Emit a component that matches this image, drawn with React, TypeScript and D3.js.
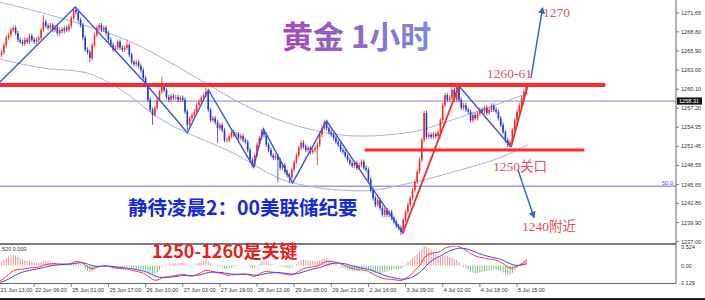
import React, { useEffect } from 'react';
import * as d3 from 'd3';

// ---------- DATA ----------
const timeLabels = [
  '21 Jun 13:00', '22 Jun 06:00', '25 Jun 01:00', '25 Jun 17:00', '26 Jun 10:00',
  '27 Jun 03:00', '27 Jun 19:00', '28 Jun 12:00', '29 Jun 05:00', '29 Jun 21:00',
  '2 Jul 16:00', '3 Jul 09:00', '4 Jul 02:00', '4 Jul 18:00', '5 Jul 15:00',
];
const barsPerLabel = 16;

const firstOpen = 1265.0;
// hourly closes, bar 1 .. 228
const closes = [
  1265.3, 1265.7, 1266.8, 1267.9, 1268.3, 1269.1, 1269.4, 1268.6, 1267.6, 1267.3,
  1267.0, 1267.6, 1267.3, 1268.2, 1267.6, 1267.3, 1267.6, 1267.9, 1269.1, 1270.3,
  1269.7, 1269.4, 1269.8, 1269.1, 1269.5, 1268.6, 1269.1, 1268.9, 1269.4, 1269.1,
  1269.7, 1270.9, 1272.1, 1271.8, 1270.6, 1269.8, 1267.9, 1266.1, 1265.7, 1264.8,
  1266.8, 1268.3, 1269.4, 1269.8, 1269.1, 1269.4, 1268.6, 1267.6, 1266.8, 1266.1,
  1266.4, 1267.3, 1266.4, 1266.1, 1266.4, 1266.8, 1265.3, 1264.2, 1263.9, 1264.2,
  1263.6, 1263.0, 1261.8, 1260.7, 1258.5, 1257.0, 1256.2, 1257.3, 1258.5, 1259.7,
  1260.7, 1260.0, 1258.9, 1258.5, 1259.1, 1258.8, 1258.9, 1258.5, 1258.8, 1258.5,
  1256.7, 1254.7, 1255.7, 1256.2, 1256.7, 1257.7, 1258.2, 1258.8, 1259.2, 1259.7,
  1257.0, 1255.4, 1255.7, 1255.1, 1254.2, 1254.7, 1253.9, 1252.4, 1252.4, 1253.0,
  1253.6, 1253.2, 1253.3, 1252.7, 1253.0, 1252.4, 1252.1, 1250.9, 1249.4, 1248.6,
  1250.1, 1251.7, 1252.7, 1253.6, 1253.2, 1251.7, 1250.9, 1250.1, 1249.7, 1250.0,
  1249.4, 1248.2, 1248.6, 1247.6, 1247.1, 1246.7, 1247.9, 1249.1, 1250.1, 1251.2,
  1252.0, 1251.4, 1250.9, 1251.2, 1250.6, 1250.9, 1251.2, 1251.7, 1253.2, 1254.2,
  1255.1, 1254.2, 1253.6, 1253.2, 1252.7, 1252.1, 1251.7, 1250.9, 1250.6, 1250.0,
  1249.4, 1248.9, 1248.5, 1248.9, 1248.2, 1248.6, 1249.1, 1248.2, 1247.9, 1246.4,
  1244.8, 1243.6, 1242.6, 1243.3, 1242.1, 1241.1, 1241.8, 1241.1, 1241.5, 1240.6,
  1240.0, 1239.4, 1239.1, 1238.5, 1240.3, 1241.5, 1242.6, 1243.6, 1244.8, 1246.1,
  1247.6, 1249.4, 1252.4, 1256.5, 1252.9, 1253.2, 1252.9, 1253.3, 1253.0, 1253.6,
  1255.4, 1257.7, 1259.2, 1258.5, 1258.8, 1260.0, 1258.5, 1260.6, 1258.5, 1257.3,
  1257.7, 1257.0, 1256.7, 1255.4, 1256.2, 1255.7, 1256.4, 1257.0, 1256.7, 1257.3,
  1256.5, 1257.0, 1257.6, 1257.0, 1256.7, 1255.7, 1254.7, 1253.6, 1252.4, 1251.7,
  1252.1, 1253.9, 1255.4, 1256.7, 1257.7, 1258.8, 1259.7, 1260.6,
];
// notable wicks: [bar, price]
const wickHighs: [number, number][] = [
  [20, 1271.35], [34, 1272.6], [56, 1267.6], [71, 1262.0], [90, 1260.3],
  [114, 1254.1], [141, 1255.5], [198, 1260.9], [228, 1260.8],
];
const wickLows: [number, number][] = [
  [40, 1264.2], [67, 1254.7], [82, 1253.9], [95, 1252.0], [110, 1248.3],
  [121, 1246.0], [126, 1245.9], [138, 1248.6], [174, 1238.0], [220, 1251.3],
];

const priceTicks = [
  1271.65, 1268.8, 1265.9, 1263.0, 1260.1, 1257.2, 1254.35, 1251.45,
  1248.55, 1245.65, 1242.8, 1239.9, 1237.0,
];
const lastPrice = 1258.31;
const resistance = 1260.74;
const support = 1250.9;
const fib50 = 1245.4;

// moving-average curves [bar, price]
const maUpper: [number, number][] = [
  [0, 1273.4], [30.2, 1270.6], [58.7, 1267.1], [87.6, 1261.5], [104.9, 1258.0],
  [130.8, 1254.4], [156.7, 1253.0], [178.3, 1253.6], [199.8, 1255.9], [217.1, 1258.0], [228.7, 1259.5],
];
const maLower: [number, number][] = [
  [0, 1264.8], [19.9, 1263.3], [37.1, 1262.7], [51.8, 1260.4], [69.1, 1255.9],
  [101.9, 1250.4], [126.5, 1246.0], [156.7, 1244.7], [178.3, 1245.9], [199.8, 1247.9],
  [217.1, 1249.8], [228.7, 1251.7],
];

// trend / zigzag lines [bar, price]
const zigzag: [number, number][] = [
  [1.3, 1261.2], [33.7, 1272.56], [63.9, 1261.0], [82.0, 1253.5], [91.1, 1260.0],
  [110.5, 1248.3], [114.8, 1254.1], [127.3, 1245.9], [142.0, 1255.3], [174.8, 1238.3],
];
const redLeg1: [number, number][] = [[174.8, 1238.3], [199.0, 1260.6]];
const blueLeg: [number, number][] = [[199.0, 1260.6], [221.4, 1251.35]];
const redLeg2: [number, number][] = [[221.4, 1251.35], [228.7, 1260.74]];

const arrowUp: [number, number][] = [[230, 1261.8], [235, 1272.4]];
const arrowDown: [number, number][] = [[224.4, 1247.9], [231.3, 1240.7]];

const macdSeed = { dif: -2.9, dea: -3.1 };
const macdLimits = [-3.129, 3.524];

// ---------- COMPONENT ----------
export default function App() {
  useEffect(() => {
    document.body.style.margin = '0';
  }, []);

  const x = d3.scaleLinear().domain([0, barsPerLabel * 14]).range([-3, 517]);
  const y = d3.scaleLinear().domain([1237.0, 1271.65]).range([241.7, 13]);
  const my = d3.scaleLinear().domain(macdLimits).range([282.5, 246.5]);

  const bars = closes.map((c, k) => {
    const i = k + 1;
    const o = k === 0 ? firstOpen : closes[k - 1];
    const hOv = wickHighs.find((w) => w[0] === i);
    const lOv = wickLows.find((w) => w[0] === i);
    const h = hOv ? hOv[1] : Math.max(o, c) + 0.35;
    const l = lOv ? lOv[1] : Math.min(o, c) - 0.35;
    return { i, o, c, h, l };
  });

  // MACD (DIF / DEA / 2*(DIF-DEA))
  const a12 = 2 / 13, a26 = 2 / 27, a9 = 2 / 10;
  let e12 = closes[0];
  let e26 = closes[0] - macdSeed.dif;
  let dea = macdSeed.dea;
  const macd = closes.map((c, k) => {
    if (k > 0) {
      e12 += a12 * (c - e12);
      e26 += a26 * (c - e26);
    }
    const dif = e12 - e26;
    if (k > 0) dea += a9 * (dif - dea);
    return { i: k + 1, dif, dea, hist: 2 * (dif - dea) };
  });

  const pl = d3.line<[number, number]>().x((d) => x(d[0])).y((d) => y(d[1]));
  const smooth = d3.line<[number, number]>().x((d) => x(d[0])).y((d) => y(d[1])).curve(d3.curveMonotoneX);
  const difLine = d3.line<any>().x((d) => x(d.i)).y((d) => my(d.dif));
  const deaLine = d3.line<any>().x((d) => x(d.i)).y((d) => my(d.dea));

  const UP = '#f42a2a';
  const DN = '#2236d8';
  const ANN = '#e8505c';
  const axisFont = 'Liberation Sans, Arial, sans-serif';
  const cjk = '"Noto Sans CJK SC", "Noto Sans", sans-serif';
  const serifCjk = '"Liberation Serif", "Noto Sans CJK SC", serif';

  return (
    <svg width={705} height={300} style={{ position: 'fixed', left: 0, top: 0, background: '#fff' }}>
      <defs>
        <clipPath id="main"><rect x={0} y={0} width={676} height={243} /></clipPath>
        <clipPath id="mac"><rect x={0} y={246} width={676} height={37.5} /></clipPath>
        <linearGradient id="tg" x1="0" x2="1" y1="0" y2="0">
          <stop offset="0" stopColor="#a449b6" />
          <stop offset="1" stopColor="#7c86e2" />
        </linearGradient>
        <marker id="ah" viewBox="0 0 10 10" refX="8" refY="5" markerWidth="5" markerHeight="5" orient="auto">
          <path d="M0,0 L10,5 L0,10 z" fill="#2f5fd0" />
        </marker>
      </defs>
      <rect x={0} y={0} width={705} height={300} fill="#fff" />

      <g clipPath="url(#main)">
        {/* horizontal levels */}
        <line x1={0} x2={676} y1={y(lastPrice)} y2={y(lastPrice)} stroke="#9c9ce4" strokeWidth={1.3} />
        <line x1={0} x2={676} y1={y(fib50)} y2={y(fib50)} stroke="#9c9ce4" strokeWidth={1.3} />
        {/* MA curves */}
        <path d={smooth(maUpper) || ''} fill="none" stroke="#b0addf" strokeWidth={1} />
        <path d={smooth(maLower) || ''} fill="none" stroke="#b0addf" strokeWidth={1} />

        {/* candles */}
        {bars.map((b) => {
          const col = b.c >= b.o ? UP : DN;
          const cx = x(b.i);
          const top = y(Math.max(b.o, b.c));
          const bot = y(Math.min(b.o, b.c));
          return (
            <g key={b.i}>
              <line x1={cx} x2={cx} y1={y(b.h)} y2={y(b.l)} stroke={col} strokeWidth={0.8} />
              <rect x={cx - 0.8} y={top} width={1.6} height={Math.max(0.8, bot - top)} fill={col} />
            </g>
          );
        })}

        {/* red support/resistance */}
        <line x1={0} x2={x(262)} y1={y(resistance)} y2={y(resistance)} stroke="#ff2b2b" strokeWidth={4} />
        <line x1={x(158.4)} x2={x(253)} y1={y(support)} y2={y(support)} stroke="#ff2b2b" strokeWidth={3} />

        {/* zigzag */}
        <path d={pl(zigzag) || ''} fill="none" stroke="#3f55d0" strokeWidth={1.4} />
        <path d={pl(blueLeg) || ''} fill="none" stroke="#3f55d0" strokeWidth={1.4} />
        <path d={pl(redLeg1) || ''} fill="none" stroke="#f03030" strokeWidth={1.8} />
        <path d={pl(redLeg2) || ''} fill="none" stroke="#f03030" strokeWidth={1.8} />

        {/* arrows */}
        <path d={pl(arrowUp) || ''} fill="none" stroke="#2f5fd0" strokeWidth={1.4} markerEnd="url(#ah)" />
        <path d={pl(arrowDown) || ''} fill="none" stroke="#2f5fd0" strokeWidth={1.4} markerEnd="url(#ah)" />

        <text x={673} y={y(fib50) - 1.5} fontSize={5.5} fill="#4a4af0" fontFamily={axisFont} textAnchor="end">50.0</text>
      </g>

      {/* annotations */}
      <text x={282} y={48} fontSize={31} fontWeight="bold" fontFamily={cjk} fill="url(#tg)">黄金 1小时</text>
      <text x={487} y={78} fontSize={13.5} fill={ANN} fontFamily={serifCjk}>1260-61</text>
      <text x={543} y={17} fontSize={13.5} fill={ANN} fontFamily={serifCjk}>1270</text>
      <text x={493} y={171} fontSize={13.5} fill={ANN} fontFamily={serifCjk}>1250关口</text>
      <text x={522} y={231} fontSize={13.5} fill={ANN} fontFamily={serifCjk}>1240附近</text>
      <text x={128} y={215} fontSize={19.5} fontWeight="bold" fontFamily={cjk} fill="#1428e0">静待凌晨2：00美联储纪要</text>

      {/* panel separators */}
      <line x1={0} x2={676} y1={244} y2={244} stroke="#7a7a7a" strokeWidth={2} />
      <line x1={0} x2={676} y1={283.5} y2={283.5} stroke="#666" strokeWidth={1} />
      <line x1={676} x2={676} y1={0} y2={284} stroke="#666" strokeWidth={1} />

      {/* MACD */}
      <g clipPath="url(#mac)">
        {macd.map((m) => (
          <line key={m.i} x1={x(m.i)} x2={x(m.i)} y1={my(0)} y2={my(m.hist)}
            stroke={m.hist >= 0 ? '#f08a8a' : '#6fb86f'} strokeWidth={0.9} />
        ))}
        <path d={difLine(macd) || ''} fill="none" stroke="#ff3535" strokeWidth={1} />
        <path d={deaLine(macd) || ''} fill="none" stroke="#3a46f2" strokeWidth={1} />
      </g>
      <text x={0.5} y={251} fontSize={5.5} fill="#333" fontFamily={axisFont}>.520 0.000</text>
      <text x={681} y={my(3.524) + 2} fontSize={5.6} fill="#333" fontFamily={axisFont}>3.524</text>
      <text x={681} y={my(0) + 2} fontSize={5.6} fill="#333" fontFamily={axisFont}>0.00</text>
      <text x={679} y={my(-3.129) + 2} fontSize={5.6} fill="#333" fontFamily={axisFont}>-3.129</text>

      {/* red key text over the panel */}
      <text x={152} y={258} fontSize={18} fontWeight="bold" fontFamily={cjk} fill="#e6201e">1250-1260是关键</text>

      {/* right price axis */}
      {priceTicks.map((p) => (
        <g key={p}>
          <line x1={676} x2={679} y1={y(p)} y2={y(p)} stroke="#666" strokeWidth={0.8} />
          <text x={681} y={y(p) + 2} fontSize={5.6} fill="#333" fontFamily={axisFont}>{p.toFixed(2)}</text>
        </g>
      ))}
      <rect x={677} y={y(lastPrice) - 3.6} width={25} height={7.2} fill="#111" />
      <text x={679} y={y(lastPrice) + 2} fontSize={5.6} fill="#fff" fontFamily={axisFont}>{lastPrice.toFixed(2)}</text>

      {/* time axis */}
      {timeLabels.map((t, k) => {
        const tx = x(k * barsPerLabel);
        return (
          <g key={t}>
            <line x1={tx} x2={tx} y1={283.5} y2={287} stroke="#666" strokeWidth={0.8} />
            <text x={Math.max(tx + 1, 0.5)} y={292} fontSize={5.5} fill="#333" fontFamily={axisFont}>{t}</text>
          </g>
        );
      })}

      {/* outer frame edges */}
      <rect x={0} y={298} width={705} height={2} fill="#222" />
    </svg>
  );
}
